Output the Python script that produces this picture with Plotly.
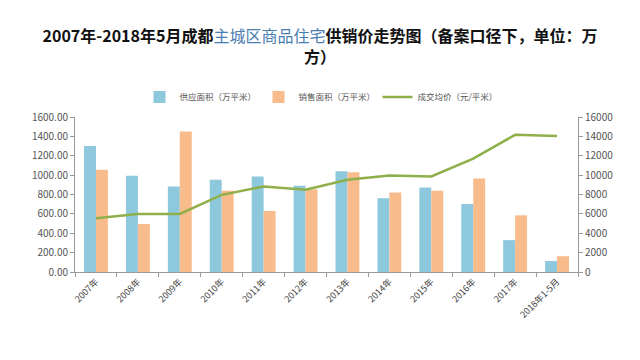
import plotly.graph_objects as go

categories = ["2007年", "2008年", "2009年", "2010年", "2011年", "2012年", "2013年",
              "2014年", "2015年", "2016年", "2017年", "2018年1-5月"]
supply = [1300, 994, 883, 952, 987, 890, 1039, 762, 873, 703, 329, 114]
sales = [1055, 495, 1450, 838, 630, 855, 1029, 821, 838, 966, 585, 163]
price = [5540, 5990, 6000, 7960, 8830, 8490, 9520, 9970, 9870, 11700, 14160, 14030]

left_ticks = [0, 200, 400, 600, 800, 1000, 1200, 1400, 1600]
right_ticks = [0, 2000, 4000, 6000, 8000, 10000, 12000, 14000, 16000]

FONT = "Noto Sans CJK SC, Lato, sans-serif"

fig = go.Figure()
fig.add_trace(go.Bar(x=categories, y=supply, name="供应面积（万平米）",
                     marker=dict(color="#8DC8DD", line=dict(width=0))))
fig.add_trace(go.Bar(x=categories, y=sales, name="销售面积（万平米）",
                     marker=dict(color="#F8BC8C", line=dict(width=0))))
fig.add_trace(go.Scatter(x=categories, y=price, name="成交均价（元/平米）", yaxis="y2",
                         mode="lines", line=dict(color="#8FAF4A", width=2.5)))

fig.update_layout(
    width=640, height=360,
    paper_bgcolor="white", plot_bgcolor="white",
    margin=dict(l=67, r=70, t=109, b=96, autoexpand=False),
    font=dict(family=FONT, color="#555555", size=10),
    title=dict(
        text="<b>2007年-2018年5月成都</b><span style='color:#4A7DB0'>主城区商品住宅</span>"
             "<b>供销价走势图（备案口径下，单位：万</b><br><b>方）</b>",
        x=(320 - 8) / 640, xanchor="center", y=0.905, yanchor="middle",
        font=dict(family=FONT, size=16, color="#111111"),
    ),
    barmode="group", bargap=0.43, bargroupgap=0,
    showlegend=True,
    legend=dict(orientation="h", x=(318 - 8) / 640, xanchor="center", xref="container",
                y=1 - 89 / 360, yanchor="middle", yref="container",
                font=dict(size=8.5, color="#555555"), itemwidth=30,
                entrywidth=74, traceorder="normal"),
    xaxis=dict(type="category", showline=True, linecolor="#999999", linewidth=1,
               ticks="outside", tickson="boundaries", ticklen=4, tickcolor="#999999",
               tickangle=-45, tickfont=dict(size=9, color="#444444"), showgrid=False,
               automargin=False),
    yaxis=dict(range=[0, 1600], tickvals=left_ticks,
               ticktext=[f"{v:.2f}" for v in left_ticks],
               showline=True, linecolor="#999999", linewidth=1,
               ticks="outside", ticklen=4, tickcolor="#999999",
               tickfont=dict(size=10, color="#555555"), showgrid=False, zeroline=False,
               automargin=False),
    yaxis2=dict(range=[0, 16000], tickvals=right_ticks, tickformat="d",
                overlaying="y", side="right",
                showline=True, linecolor="#999999", linewidth=1,
                ticks="outside", ticklen=4, tickcolor="#999999",
                tickfont=dict(size=10, color="#555555"), showgrid=False, zeroline=False,
                automargin=False),
)

fig.write_html("out.html")
